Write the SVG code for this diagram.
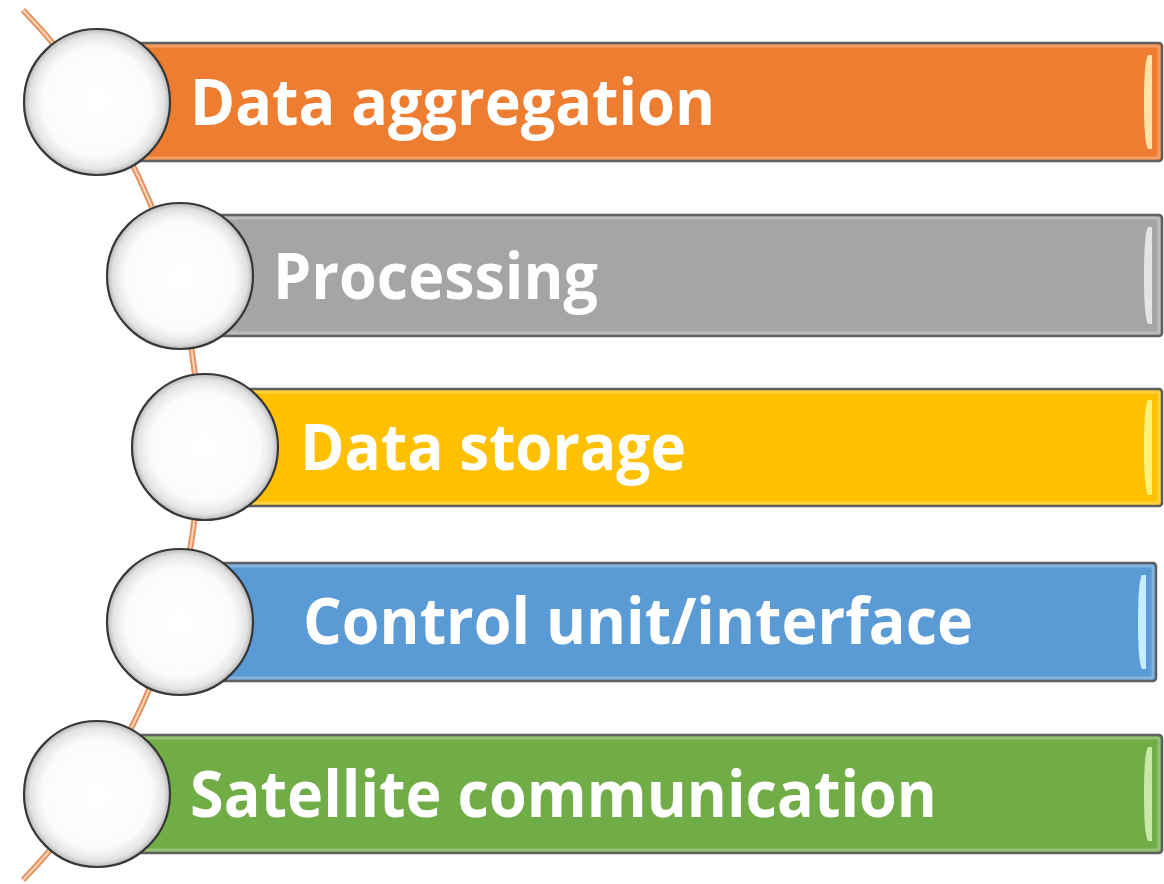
<svg xmlns="http://www.w3.org/2000/svg" width="1164" height="884" viewBox="0 0 1164 884">
<defs>
<radialGradient id="ball" cx="50%" cy="50%" r="50%">
<stop offset="0" stop-color="#ffffff"/>
<stop offset="0.75" stop-color="#fbfbfb"/>
<stop offset="0.92" stop-color="#e3e3e3"/>
<stop offset="1" stop-color="#b8b8b8"/>
</radialGradient>
<style>
.bar{stroke:#5f5f5f;stroke-width:2.5}
.bevel{fill:none;stroke:#ffffff;stroke-opacity:0.25;stroke-width:3}
.hl{stroke:none}
.ball{fill:url(#ball);stroke:#383838;stroke-width:2.2}
.lbl{font-family:"Open Sans","Liberation Sans",sans-serif;font-weight:700;font-size:64px;fill:#ffffff}
</style>
</defs>
<g id="connectors">
<path d="M 23 10 A 626 626 0 0 1 23 880" fill="none" stroke="#e39160" stroke-width="6"/>
<path d="M 23 10 A 626 626 0 0 1 23 880" fill="none" stroke="#fad2b0" stroke-width="2.2"/>
</g>
<g id="node1">
<rect class="bar" x="100" y="43" width="1062" height="118" rx="3" fill="#ED7D31"/>
<rect class="bevel" x="103" y="46" width="1056" height="112" rx="2"/>
<path class="hl" fill="#ffe3a6" d="M1148 55 L1152 55 L1152 149 L1148 149 Q1144 143 1144 102 Q1144 61 1148 55 Z"/>
<circle class="ball" cx="97" cy="102" r="73"/>
<text class="lbl" x="190" y="125" textLength="525" lengthAdjust="spacingAndGlyphs">Data aggregation</text>
</g>
<g id="node2">
<rect class="bar" x="180" y="215" width="982" height="121" rx="3" fill="#A5A5A5"/>
<rect class="bevel" x="183" y="218" width="976" height="115" rx="2"/>
<path class="hl" fill="#e4e4e4" d="M1148 227 L1152 227 L1152 324 L1148 324 Q1144 318 1144 276 Q1144 233 1148 227 Z"/>
<circle class="ball" cx="180" cy="276" r="73"/>
<text class="lbl" x="273" y="299" textLength="325" lengthAdjust="spacingAndGlyphs">Processing</text>
</g>
<g id="node3">
<rect class="bar" x="205" y="389" width="957" height="117" rx="3" fill="#FFC000"/>
<rect class="bevel" x="208" y="392" width="951" height="111" rx="2"/>
<path class="hl" fill="#fff27a" d="M1148 400 L1152 400 L1152 495 L1148 495 Q1144 489 1144 447 Q1144 406 1148 400 Z"/>
<circle class="ball" cx="205" cy="447" r="73"/>
<text class="lbl" x="300" y="470" textLength="386" lengthAdjust="spacingAndGlyphs">Data storage</text>
</g>
<g id="node4">
<rect class="bar" x="180" y="563" width="976" height="118" rx="3" fill="#5B9BD5"/>
<rect class="bevel" x="183" y="566" width="970" height="112" rx="2"/>
<path class="hl" fill="#c6ecff" d="M1142 575 L1146 575 L1146 669 L1142 669 Q1138 663 1138 622 Q1138 581 1142 575 Z"/>
<circle class="ball" cx="180" cy="622" r="73"/>
<text class="lbl" x="303" y="644" textLength="670" lengthAdjust="spacingAndGlyphs">Control unit/interface</text>
</g>
<g id="node5">
<rect class="bar" x="100" y="735" width="1062" height="118" rx="3" fill="#70AD47"/>
<rect class="bevel" x="103" y="738" width="1056" height="112" rx="2"/>
<path class="hl" fill="#c9e8a8" d="M1148 747 L1152 747 L1152 841 L1148 841 Q1144 835 1144 794 Q1144 753 1148 747 Z"/>
<circle class="ball" cx="97" cy="794" r="73"/>
<text class="lbl" x="190" y="817" textLength="747" lengthAdjust="spacingAndGlyphs">Satellite communication</text>
</g>
</svg>
